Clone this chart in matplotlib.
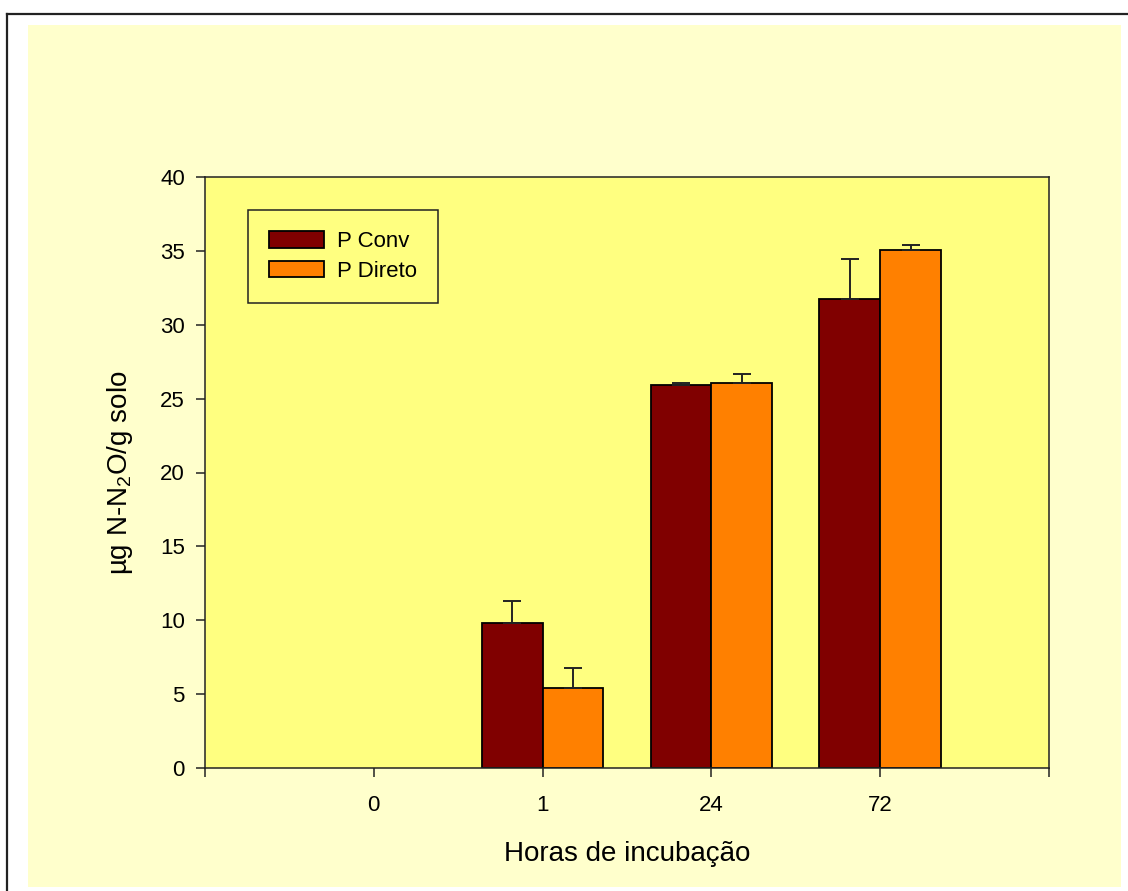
import numpy as np
import matplotlib
matplotlib.use("Agg")
import matplotlib.pyplot as plt
from matplotlib.patches import Rectangle
from matplotlib.lines import Line2D

plt.rcParams['font.family'] = ['Liberation Sans', 'DejaVu Sans']
plt.rcParams['mathtext.fontset'] = 'custom'
plt.rcParams['mathtext.rm'] = 'Liberation Sans'
plt.rcParams['mathtext.it'] = 'Liberation Sans'
plt.rcParams['mathtext.default'] = 'regular'

hours = ['0', '1', '24', '72']
conv = [0.0, 9.83, 25.92, 31.74]
conv_err = [0.0, 1.47, 0.16, 2.73]
direto = [0.0, 5.39, 26.03, 35.04]
direto_err = [0.0, 1.40, 0.66, 0.38]

dark_red = '#800000'
orange = '#FF8000'
plot_bg = '#FFFF80'
cream = '#FFFFCC'

W, H = 1128, 891
fig = plt.figure(figsize=(W / 100, H / 100), dpi=100, facecolor='white')

# cream panel and the outer frame line
fig.add_artist(Rectangle((28 / W, (H - 887) / H), (1121 - 28) / W, (887 - 25) / H,
                         transform=fig.transFigure, facecolor=cream,
                         edgecolor='none', zorder=-10))
fig.add_artist(Line2D([7 / W, 7 / W], [-0.01, (H - 14) / H], transform=fig.transFigure,
                      color='#222222', lw=1.6))
fig.add_artist(Line2D([7 / W, 1.01], [(H - 14) / H, (H - 14) / H], transform=fig.transFigure,
                      color='#222222', lw=1.6))

ax = fig.add_axes([205 / W, (H - 768) / H, 844 / W, 591 / H])
ax.set_facecolor(plot_bg)

x = np.arange(len(hours))
w = 0.36
series = [(x - w / 2, np.array(conv), np.array(conv_err), dark_red, 'P Conv'),
          (x + w / 2, np.array(direto), np.array(direto_err), orange, 'P Direto')]
for xs, vals, errs, col, lab in series:
    # empty groups get no bar outline and no error bar
    m = vals > 0
    ax.bar(xs[m], vals[m], w, color=col, edgecolor='black', linewidth=1.3,
           label=lab, zorder=2)
    ax.errorbar(xs[m], vals[m], yerr=[np.zeros(m.sum()), errs[m]],
                fmt='none', ecolor='#222222', elinewidth=1.4, capsize=6.5,
                capthick=1.4, zorder=3)

ax.set_xlim(-1, 4)
ax.set_ylim(0, 40)
ax.set_yticks(np.arange(0, 41, 5))
ax.set_xticks([-1, 0, 1, 2, 3, 4])
ax.set_xticklabels([''] + hours + [''])
ax.tick_params(direction='out', length=6.5, width=1.1, labelsize=16, color='#222222')
ax.tick_params(axis='x', pad=13)
ax.tick_params(axis='y', pad=8)
for s in ax.spines.values():
    s.set_linewidth(1.1)
    s.set_color('#222222')

ax.set_xlabel('Horas de incubação', fontsize=20, labelpad=18)
ax.set_ylabel('µg N-N$_2$O/g solo', fontsize=20, labelpad=18)

leg = ax.legend(loc='upper left', bbox_to_anchor=(0.051, 0.944), borderaxespad=0,
                fancybox=False, edgecolor='#222222', facecolor=plot_bg, framealpha=1,
                fontsize=16, handlelength=2.45, handleheight=0.75, labelspacing=0.4,
                borderpad=0.95, handletextpad=0.6)
leg.get_frame().set_linewidth(1.1)

fig.savefig('out.png', dpi=100, facecolor='white')
